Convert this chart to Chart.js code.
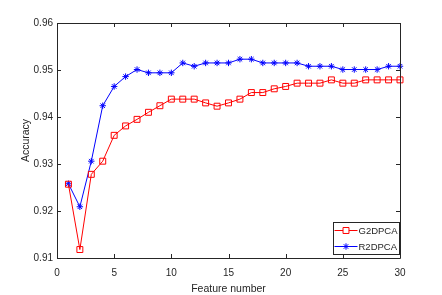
<!DOCTYPE html>
<html>
<head>
<meta charset="utf-8">
<script src="https://cdn.jsdelivr.net/npm/chart.js@4.4.1/dist/chart.umd.min.js"></script>
<style>
  html, body { margin: 0; padding: 0; background: #fff; }
  #wrap { width: 442px; height: 295px; }
</style>
</head>
<body>
<div id="wrap"><canvas id="chart" width="442" height="295"></canvas></div>
<script>
// data
const featureNumbers = [1, 2, 3, 4, 5, 6, 7, 8, 9, 10, 11, 12, 13, 14, 15,
                        16, 17, 18, 19, 20, 21, 22, 23, 24, 25, 26, 27, 28, 29, 30];
const g2dpca = [0.9257, 0.9118, 0.9278, 0.9306, 0.9361, 0.9381, 0.9395, 0.9410, 0.9424, 0.9438,
                0.9438, 0.9438, 0.9430, 0.9423, 0.9430, 0.9438, 0.9452, 0.9452, 0.9460, 0.9465,
                0.9472, 0.9472, 0.9472, 0.9479, 0.9472, 0.9472, 0.9479, 0.9479, 0.9479, 0.9479];
const r2dpca = [0.9258, 0.9209, 0.9306, 0.9424, 0.9465, 0.9486, 0.9501, 0.9494, 0.9494, 0.9494,
                0.9515, 0.9508, 0.9515, 0.9515, 0.9515, 0.9523, 0.9523, 0.9515, 0.9515, 0.9515,
                0.9515, 0.9508, 0.9508, 0.9508, 0.9501, 0.9501, 0.9501, 0.9501, 0.9508, 0.9508];
const xTicks = [0, 5, 10, 15, 20, 25, 30];
const yTicks = [0.91, 0.92, 0.93, 0.94, 0.95, 0.96];

const AXIS_COLOR = '#262626';
const FONT = "'Liberation Sans', Arial, Helvetica, sans-serif";

function toPoints(ys) {
  return featureNumbers.map((x, i) => ({ x: x, y: ys[i] }));
}

/* box round the axes with inward ticks on all four sides (MATLAB style) */
const axesBox = {
  id: 'axesBox',
  afterDatasetsDraw(chart) {
    const { ctx, chartArea: a, scales } = chart;
    const tl = 4;
    ctx.save();
    ctx.strokeStyle = AXIS_COLOR;
    ctx.lineWidth = 1;
    ctx.beginPath();
    ctx.rect(Math.round(a.left) + 0.5, Math.round(a.top) + 0.5,
             Math.round(a.right - a.left), Math.round(a.bottom - a.top));
    xTicks.forEach(v => {
      const px = Math.round(scales.x.getPixelForValue(v)) + 0.5;
      ctx.moveTo(px, a.bottom); ctx.lineTo(px, a.bottom - tl);
      ctx.moveTo(px, a.top); ctx.lineTo(px, a.top + tl);
    });
    yTicks.forEach(v => {
      const py = Math.round(scales.y.getPixelForValue(v)) + 0.5;
      ctx.moveTo(a.left, py); ctx.lineTo(a.left + tl, py);
      ctx.moveTo(a.right, py); ctx.lineTo(a.right - tl, py);
    });
    ctx.stroke();
    ctx.restore();
  }
};

/* legend box in the lower right corner of the axes */
const cornerLegend = {
  id: 'cornerLegend',
  afterDraw(chart) {
    const { ctx, chartArea: a } = chart;
    const w = 66, h = 32;
    const x0 = Math.round(a.right - 1 - w) + 0.5;
    const y0 = Math.round(a.bottom - 4 - h) + 0.5;
    ctx.save();
    ctx.fillStyle = '#fff';
    ctx.strokeStyle = AXIS_COLOR;
    ctx.lineWidth = 1;
    ctx.fillRect(x0, y0, w, h);
    ctx.strokeRect(x0, y0, w, h);
    ctx.font = "9.5px " + FONT;
    ctx.textBaseline = 'middle';
    chart.data.datasets.forEach((ds, i) => {
      const y = y0 + 8 + i * 16;
      ctx.strokeStyle = ds.borderColor;
      ctx.lineWidth = 1;
      ctx.beginPath();
      ctx.moveTo(x0 + 1, y); ctx.lineTo(x0 + 24, y);
      ctx.stroke();
      Chart.helpers.drawPoint(ctx, {
        pointStyle: ds.pointStyle, radius: ds.pointRadius, rotation: 0, borderWidth: 1
      }, x0 + 12.5, y);
      ctx.fillStyle = AXIS_COLOR;
      ctx.fillText(ds.label, x0 + 25, y + 1);
    });
    ctx.restore();
  }
};

new Chart(document.getElementById('chart'), {
  type: 'line',
  data: {
    datasets: [{
      label: 'G2DPCA',
      data: toPoints(g2dpca),
      borderColor: '#ff0000',
      backgroundColor: 'rgba(0,0,0,0)',
      borderWidth: 1,
      pointStyle: 'rect',
      pointRadius: 4.2,
      pointBorderWidth: 1,
      pointBackgroundColor: 'rgba(0,0,0,0)',
      tension: 0,
      clip: false
    }, {
      label: 'R2DPCA',
      data: toPoints(r2dpca),
      borderColor: '#0000ff',
      backgroundColor: 'rgba(0,0,0,0)',
      borderWidth: 1,
      pointStyle: 'star',
      pointRadius: 3.2,
      pointBorderWidth: 1,
      tension: 0,
      clip: false
    }]
  },
  options: {
    responsive: false,
    animation: false,
    devicePixelRatio: 1,
    layout: { padding: { top: 23, right: 42, left: 0, bottom: 0 } },
    plugins: {
      legend: { display: false },
      tooltip: { enabled: false }
    },
    scales: {
      x: {
        type: 'linear',
        min: 0, max: 30,
        afterBuildTicks: s => { s.ticks = xTicks.map(v => ({ value: v })); },
        afterFit: s => { s.height = 37; },
        grid: { display: false, drawTicks: false },
        border: { display: false },
        ticks: { padding: 9, color: AXIS_COLOR, font: { family: FONT, size: 10 }, maxRotation: 0 },
        title: { display: true, text: 'Feature number', color: AXIS_COLOR,
                 font: { family: FONT, size: 10.5 }, padding: { top: 0, bottom: 0 } }
      },
      y: {
        min: 0.91, max: 0.96,
        afterBuildTicks: s => { s.ticks = yTicks.map(v => ({ value: v })); },
        afterFit: s => { s.width = 57; },
        grid: { display: false, drawTicks: false },
        border: { display: false },
        ticks: { padding: 4, color: AXIS_COLOR, font: { family: FONT, size: 10 },
                 callback: v => v.toFixed(2) },
        title: { display: true, text: 'Accuracy', color: AXIS_COLOR,
                 font: { family: FONT, size: 10.5 }, padding: { top: 20, bottom: 0 } }
      }
    }
  },
  plugins: [axesBox, cornerLegend]
});
</script>
</body>
</html>
